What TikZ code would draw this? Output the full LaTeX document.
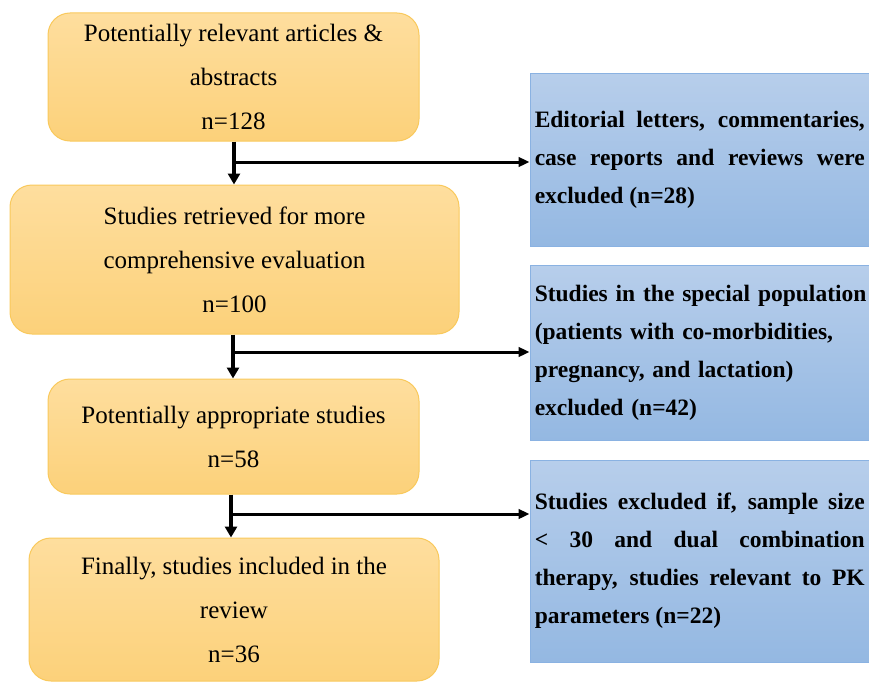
\documentclass[tikz,border=0pt]{standalone}
\usepackage{fontspec}
\setmainfont{Liberation Serif}
\usetikzlibrary{arrows.meta}
\definecolor{orTop}{RGB}{254,222,158}
\definecolor{orBot}{RGB}{252,209,122}
\definecolor{orLine}{RGB}{249,201,92}
\definecolor{blTop}{RGB}{183,206,235}
\definecolor{blBot}{RGB}{148,184,226}
\definecolor{blLine}{RGB}{138,178,226}
\tikzset{
  stagebox/.style={draw=orLine, line width=1pt, rounded corners=22pt,
    top color=orTop, bottom color=orBot, align=center, inner sep=0pt,
    font={\fontsize{25}{44}\selectfont}},
  exclbox/.style={draw=blLine, line width=1pt, top color=blTop, bottom color=blBot,
    inner sep=0pt, minimum width=339.5pt, text width=330pt,
    font={\fontsize{23.5}{38}\selectfont\bfseries\hyphenpenalty=10000}},
  downarr/.style={line width=4.2pt, -{Triangle[width=12pt,length=11pt]}},
  sidearr/.style={line width=3pt, -{Triangle[width=9.5pt,length=11pt]}},
}
\begin{document}
\begin{tikzpicture}[x=1pt,y=-1pt]
\useasboundingbox (0,0) rectangle (869,682);
% left boxes
\node[stagebox, minimum width=371pt, minimum height=128pt] (b1) at (233.5,77)
  {Potentially relevant articles \&\\abstracts\\n=128};
\node[stagebox, minimum width=449pt, minimum height=149pt] (b2) at (234.5,259.5)
  {Studies retrieved for more\\comprehensive evaluation\\n=100};
\node[stagebox, minimum width=371pt, minimum height=115pt] (b3) at (233.5,436.5)
  {Potentially appropriate studies\\n=58};
\node[stagebox, minimum width=410pt, minimum height=143pt] (b4) at (234,609.5)
  {Finally, studies included in the\\review\\n=36};
% right boxes
\node[exclbox, minimum height=172pt, align=justify] (r1) at (699.75,160)
  {Editorial letters, commentaries,\linebreak case reports and reviews were\linebreak excluded (n=28)};
\node[exclbox, minimum height=175pt, align=left] (r2) at (699.75,352.5)
  {\mbox{Studies in the special population}\\\mbox{(patients with co-morbidities,}\\\mbox{pregnancy, and lactation)}\\\mbox{excluded (n=42)}};
\node[exclbox, minimum height=202pt, align=justify] (r3) at (699.75,561)
  {Studies excluded if, sample size\linebreak {<}\ 30 and dual combination\linebreak therapy, studies relevant to PK\linebreak parameters (n=22)};
% junctions
\coordinate (j1) at (234,162);
\coordinate (j2) at (233,352);
\coordinate (j3) at (231,514);
% connectors
\draw[downarr] (j1 |- b1.south) -- (j1 |- b2.north);
\draw[downarr] (j2 |- b2.south) -- (j2 |- b3.north);
\draw[downarr] (j3 |- b3.south) -- (j3 |- b4.north);
\draw[sidearr] (j1) -- (j1 -| r1.west);
\draw[sidearr] (j2) -- (j2 -| r2.west);
\draw[sidearr] (j3) -- (j3 -| r3.west);
\end{tikzpicture}
\end{document}
